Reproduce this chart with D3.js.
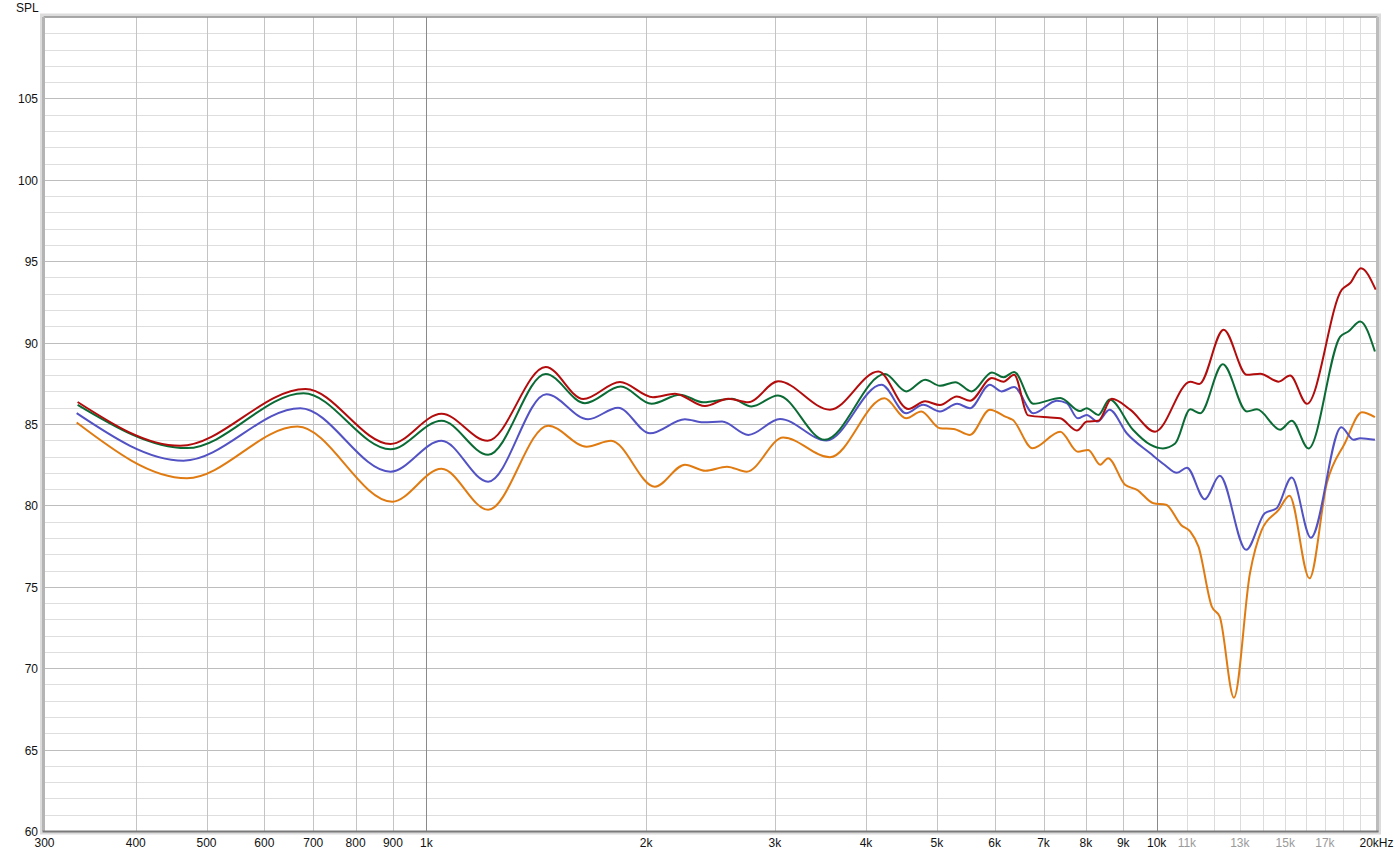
<!DOCTYPE html>
<html>
<head>
<meta charset="utf-8">
<script src="https://cdn.jsdelivr.net/npm/d3@7"></script>
<style>
  body { margin: 0; background: #fff; }
  text { font-family: "Liberation Sans", Arial, sans-serif; font-size: 12px; }
</style>
</head>
<body>
<div id="plot"></div>
<script>
// tick labels
var xMajor = [300, 400, 500, 600, 700, 800, 900, 1000, 2000, 3000, 4000, 5000, 6000, 7000, 8000, 9000, 10000];
var xMajorLabels = ["300", "400", "500", "600", "700", "800", "900", "1k", "2k", "3k", "4k", "5k", "6k", "7k", "8k", "9k", "10k"];
var xMinor = [11000, 12000, 13000, 14000, 15000, 16000, 17000, 18000, 19000];
var xMinorLabels = [[11000, "11k"], [13000, "13k"], [15000, "15k"], [17000, "17k"]];
var yLabels = [60, 65, 70, 75, 80, 85, 90, 95, 100, 105];

// measured curves
var redFreq = [333, 460, 683, 893, 1049, 1213, 1457, 1640, 1841, 2043, 2190, 2407, 2591, 2759, 3033, 3570, 4158, 4571, 4819, 5050, 5325, 5553, 5947, 6170, 6380, 6670, 7150, 7376, 7776, 8025, 8320, 8680, 9200, 9950, 11120, 11440, 12350, 13290, 13860, 14690, 15230, 16060, 17930, 18410, 19040, 19950];
var redSpl = [86.35, 83.66, 87.15, 83.77, 85.63, 83.97, 88.5, 86.53, 87.58, 86.65, 86.86, 86.1, 86.55, 86.33, 87.62, 85.88, 88.22, 85.92, 86.39, 86.16, 86.69, 86.43, 87.82, 87.6, 88.02, 85.53, 85.4, 85.35, 84.6, 85.15, 85.2, 86.55, 85.88, 84.53, 87.6, 87.46, 90.79, 88.02, 88.09, 87.6, 87.98, 86.24, 93.25, 93.66, 94.57, 93.25];

var greenFreq = [333, 470, 679, 893, 1049, 1215, 1457, 1649, 1846, 2034, 2225, 2395, 2620, 2787, 3030, 3510, 4246, 4540, 4820, 5050, 5300, 5580, 5950, 6170, 6380, 6780, 7380, 7850, 8020, 8320, 8620, 9280, 9800, 10200, 10600, 11120, 11470, 12320, 13290, 13720, 14760, 15310, 16140, 17840, 18300, 19000, 19900];
var greenSpl = [86.18, 83.52, 86.89, 83.45, 85.2, 83.11, 88.07, 86.28, 87.3, 86.24, 86.8, 86.33, 86.55, 86.08, 86.75, 84.03, 88.07, 87.0, 87.72, 87.35, 87.57, 87.0, 88.17, 87.87, 88.2, 86.24, 86.6, 85.8, 85.97, 85.56, 86.5, 84.65, 83.73, 83.5, 83.8, 85.9, 85.66, 88.67, 85.77, 85.9, 84.65, 85.2, 83.5, 90.37, 90.68, 91.3, 89.45];

var blueFreq = [332, 465, 672, 893, 1049, 1215, 1460, 1665, 1830, 2024, 2260, 2395, 2540, 2760, 3050, 3530, 4200, 4540, 4790, 5050, 5330, 5550, 5910, 6130, 6380, 6780, 7300, 7530, 7800, 8020, 8300, 8620, 9100, 9800, 10250, 10660, 11000, 11640, 12200, 13260, 14060, 14600, 15310, 16260, 17900, 18600, 19000, 19900];
var blueSpl = [85.67, 82.75, 85.97, 82.07, 83.97, 81.46, 86.83, 85.29, 86.0, 84.43, 85.29, 85.1, 85.15, 84.33, 85.31, 83.98, 87.41, 85.66, 86.18, 85.77, 86.24, 85.97, 87.41, 87.0, 87.27, 85.66, 86.43, 86.28, 85.35, 85.56, 85.15, 85.88, 84.43, 83.2, 82.5, 82.0, 82.32, 80.38, 81.82, 77.27, 79.52, 79.83, 81.71, 78.02, 84.8, 84.03, 84.13, 84.03];

var orangeFreq = [332, 470, 666, 898, 1049, 1215, 1468, 1657, 1790, 2056, 2260, 2410, 2580, 2745, 3080, 3570, 4240, 4540, 4760, 5050, 5270, 5550, 5910, 6230, 6350, 6760, 7380, 7800, 8060, 8370, 8580, 9050, 9400, 9900, 10300, 10800, 11120, 11410, 11900, 12200, 12760, 13420, 13930, 14690, 15200, 16190, 17100, 18100, 19100, 19900];
var orangeSpl = [85.09, 81.67, 84.84, 80.23, 82.25, 79.73, 84.9, 83.61, 83.97, 81.15, 82.5, 82.13, 82.38, 82.07, 84.17, 82.96, 86.58, 85.35, 85.77, 84.74, 84.7, 84.33, 85.88, 85.42, 85.26, 83.51, 84.53, 83.3, 83.41, 82.5, 82.9, 81.27, 80.96, 80.13, 80.04, 78.8, 78.39, 77.47, 73.78, 73.17, 68.19, 75.83, 78.5, 79.73, 80.6, 75.52, 81.36, 83.82, 85.72, 85.42];

var W = 1398, H = 855;
var pLeft = 44.5, pRight = 1376.5, pTop = 17, pBottom = 831;

var x = d3.scaleLog().domain([300, 20000]).range([pLeft, pRight]);
var y = d3.scaleLinear().domain([60, 110]).range([pBottom, pTop]);

var svg = d3.select("#plot").append("svg")
    .attr("width", W)
    .attr("height", H);

// frame shadow
svg.append("rect")
   .attr("x", pLeft - 3).attr("y", pTop - 2)
   .attr("width", pRight - pLeft + 6).attr("height", pBottom - pTop + 4)
   .attr("fill", "none")
   .attr("stroke", "#dcdcdc")
   .attr("stroke-width", 3);

// horizontal grid, 1 dB
d3.range(61, 110).forEach(function(v){
  svg.append("line")
     .attr("x1", pLeft).attr("x2", pRight)
     .attr("y1", Math.round(y(v)) + 0.5).attr("y2", Math.round(y(v)) + 0.5)
     .attr("stroke", v % 5 == 0 ? "#bdbdbd" : "#dedede")
     .attr("stroke-width", 1);
});

// vertical grid
xMajor.forEach(function(f){
  if (f == 300) return;
  var dec = (f == 1000 || f == 10000);
  svg.append("line")
     .attr("x1", Math.round(x(f)) + 0.5).attr("x2", Math.round(x(f)) + 0.5)
     .attr("y1", pTop).attr("y2", pBottom)
     .attr("stroke", dec ? "#8a8a8a" : "#c4c4c4")
     .attr("stroke-width", 1);
});
xMinor.forEach(function(f){
  svg.append("line")
     .attr("x1", Math.round(x(f)) + 0.5).attr("x2", Math.round(x(f)) + 0.5)
     .attr("y1", pTop).attr("y2", pBottom)
     .attr("stroke", "#dcdcdc")
     .attr("stroke-width", 1);
});

// frame lines
svg.append("line").attr("x1", pLeft - 1).attr("x2", pRight + 1)
   .attr("y1", pTop).attr("y2", pTop).attr("stroke", "#8c8c8c").attr("stroke-width", 1.5);
svg.append("line").attr("x1", pLeft - 1).attr("x2", pLeft - 1)
   .attr("y1", pTop).attr("y2", pBottom).attr("stroke", "#b4b4b4").attr("stroke-width", 3);
svg.append("line").attr("x1", pRight + 1).attr("x2", pRight + 1)
   .attr("y1", pTop).attr("y2", pBottom + 1).attr("stroke", "#bcbcbc").attr("stroke-width", 3);
svg.append("line").attr("x1", pLeft - 2).attr("x2", pRight + 2)
   .attr("y1", pBottom + 0.5).attr("y2", pBottom + 0.5).attr("stroke", "#7a7a7a").attr("stroke-width", 2);

// curves
svg.append("clipPath").attr("id", "clip")
   .append("rect").attr("x", pLeft).attr("y", pTop)
   .attr("width", pRight - pLeft).attr("height", pBottom - pTop);

var line = d3.line()
   .x(function(d){ return x(d[0]); })
   .y(function(d){ return y(d[1]); })
   .curve(d3.curveMonotoneX);

function insert_curve(freq, spl, color){
  svg.append("path")
     .datum(d3.zip(freq, spl))
     .attr("clip-path", "url(#clip)")
     .attr("fill", "none")
     .attr("stroke", color)
     .attr("stroke-width", 2)
     .attr("stroke-linejoin", "round")
     .attr("d", line);
}

insert_curve(orangeFreq, orangeSpl, "#e07b12");
insert_curve(blueFreq, blueSpl, "#5252c4");
insert_curve(greenFreq, greenSpl, "#0b6b35");
insert_curve(redFreq, redSpl, "#b30c0c");

// labels
yLabels.forEach(function(v){
  svg.append("text")
     .attr("x", 38).attr("y", y(v) + 5)
     .style("text-anchor", "end")
     .attr("fill", "#111")
     .text(v);
});
svg.append("text").attr("x", 16).attr("y", 12).attr("fill", "#111").text("SPL");

xMajor.forEach(function(f, i){
  svg.append("text")
     .attr("x", x(f)).attr("y", 847)
     .style("text-anchor", "middle")
     .attr("fill", "#111")
     .text(xMajorLabels[i]);
});
xMinorLabels.forEach(function(d){
  svg.append("text")
     .attr("x", x(d[0])).attr("y", 847)
     .style("text-anchor", "middle")
     .attr("fill", "#9a9a9a")
     .text(d[1]);
});
svg.append("text")
   .attr("x", x(20000)).attr("y", 847)
   .style("text-anchor", "middle")
   .attr("fill", "#111")
   .text("20kHz");
</script>
</body>
</html>
